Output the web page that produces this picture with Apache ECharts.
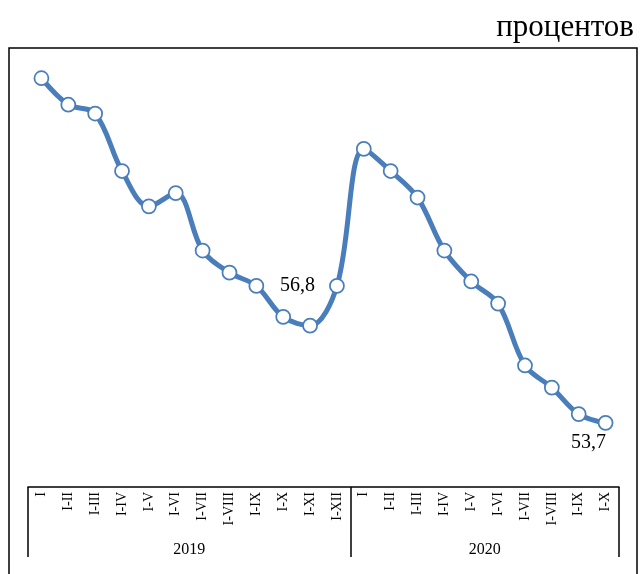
<!DOCTYPE html>
<html>
<head>
<meta charset="utf-8">
<script src="https://cdn.jsdelivr.net/npm/echarts@6/dist/echarts.min.js"></script>
<style>html,body{margin:0;padding:0;background:#fff}#c{width:642px;height:574px}</style>
</head>
<body>
<div id="c"></div>
<script>
const months = ['I','I-II','I-III','I-IV','I-V','I-VI','I-VII','I-VIII','I-IX','I-X','I-XI','I-XII',
                'I','I-II','I-III','I-IV','I-V','I-VI','I-VII','I-VIII','I-IX','I-X'];
const years = ['2019','2020'];
const yearSpans = [12, 10];
const values = [61.5,60.9,60.7,59.4,58.6,58.9,57.6,57.1,56.8,56.1,55.9,56.8,
                59.9,59.4,58.8,57.6,56.9,56.4,55.0,54.5,53.9,53.7];
const labeledIdx = [11, 21];
const unitTitle = 'процентов';

const FONT = 'Liberation Serif';
const COLOR = '#4a7ebb';

const bounds = [0];
yearSpans.forEach(s => bounds.push(bounds[bounds.length-1] + s));
const centers = yearSpans.map((s, i) => bounds[i] + s / 2);

const seriesData = values.map((v, i) => {
  const d = { value: v };
  if (i === labeledIdx[0]) {
    d.label = { show: true, position: 'left', distance: 14 };
  } else if (i === labeledIdx[1]) {
    d.label = { show: true, position: 'bottom', distance: 2, offset: [-17, 0] };
  }
  return d;
});

const chart = echarts.init(document.getElementById('c'), null, { renderer: 'canvas' });
chart.setOption({
  animation: false,
  backgroundColor: '#fff',
  title: {
    text: unitTitle,
    right: 3, top: 7,
    textStyle: { fontFamily: FONT, fontSize: 31, fontWeight: 'normal', color: '#000' }
  },
  graphic: [{
    type: 'rect',
    shape: { x: 9, y: 48, width: 628, height: 540 },
    style: { fill: 'none', stroke: '#000', lineWidth: 1.5 },
    silent: true
  }],
  grid: { left: 28, right: 23, top: 34, bottom: 87 },
  xAxis: [{
    type: 'category',
    data: months,
    boundaryGap: true,
    axisLine: { show: true, lineStyle: { color: '#000', width: 1.5 } },
    axisTick: { show: false },
    axisLabel: { interval: 0, rotate: 90, margin: 5, fontFamily: FONT, fontSize: 14, color: '#000' }
  }, {
    type: 'value',
    min: 0, max: bounds[bounds.length-1],
    position: 'bottom',
    splitLine: { show: false },
    axisLine: { show: false },
    axisTick: { show: true, customValues: bounds, length: 70, inside: false, lineStyle: { color: '#000', width: 1.5 } },
    axisLabel: {
      show: true, customValues: centers, margin: 55,
      fontFamily: FONT, fontSize: 16, color: '#000',
      formatter: v => { const i = centers.indexOf(v); return i >= 0 ? years[i] : ''; }
    }
  }],
  yAxis: {
    type: 'value', min: 52.25, max: 62.5, show: false,
    splitLine: { show: false }
  },
  series: [{
    type: 'line',
    xAxisIndex: 0,
    data: seriesData,
    smooth: 0.35,
    lineStyle: { color: COLOR, width: 5 },
    symbol: 'circle',
    symbolSize: 14,
    showAllSymbol: true,
    itemStyle: { color: '#fff', borderColor: COLOR, borderWidth: 1.75 },
    label: {
      show: false,
      fontFamily: FONT, fontSize: 20, color: '#000',
      formatter: p => String(p.value).replace('.', ',')
    },
    z: 3
  }]
});
</script>
</body>
</html>
